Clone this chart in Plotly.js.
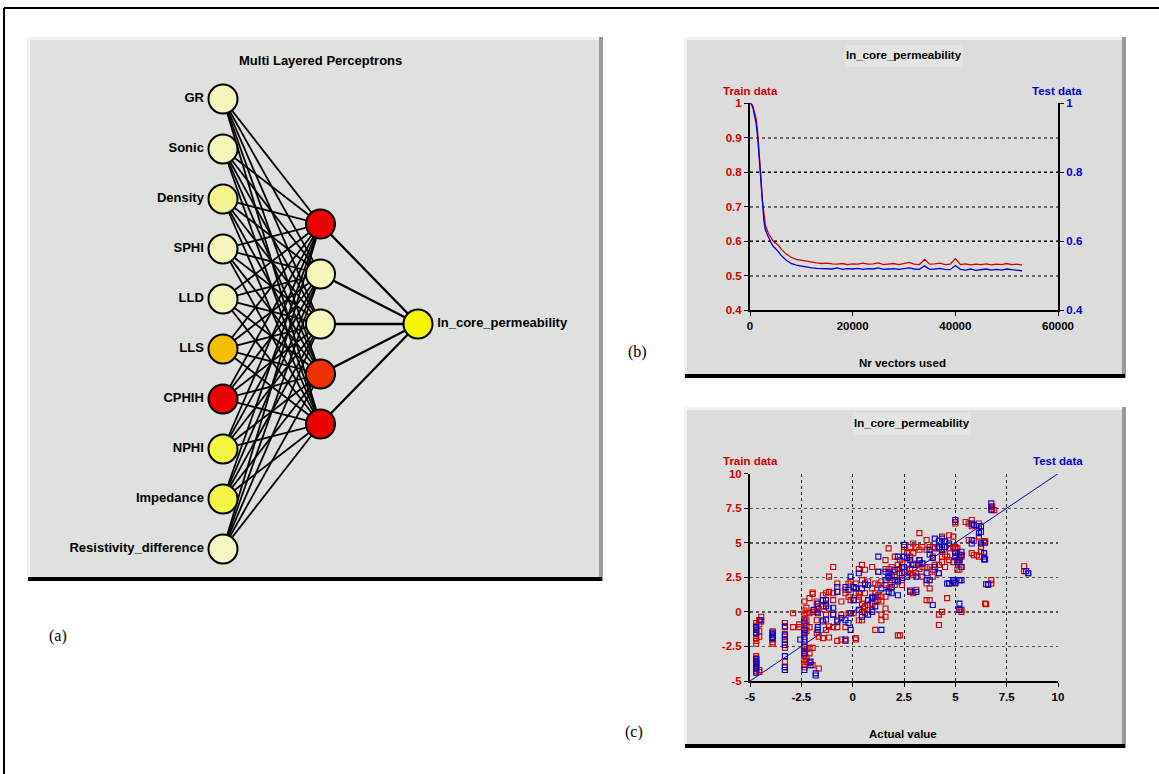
<!DOCTYPE html>
<html><head><meta charset="utf-8">
<script src="https://cdn.plot.ly/plotly-3.0.1.min.js"></script>
<style>html,body{margin:0;padding:0;background:#fff;}#plot{width:1159px;height:774px;}</style>
</head><body><div id="plot"></div>
<script>
// ---------------- DATA ----------------
// (a) network structure
const inputNames = ['GR','Sonic','Density','SPHI','LLD','LLS','CPHIH','NPHI','Impedance','Resistivity_difference'];
const hiddenCount = 5;
const outputName = 'ln_core_permeability';

// (b) learning curve
const vectorsUsed = [0,300,600,900,1200,1500,1800,2100,2400,2700,3000,3500,4000,4500,5000,5500,6000,6500,7000,7500,8000,
 9000,10000,11000,12000,13000,14000,15000,16000,17000,18000,19000,20000,21000,22000,23000,24000,25000,26000,27000,28000,29000,
 30000,31000,32000,33000,34000,35000,36000,37000,38000,39000,40000,41000,42000,43000,44000,45000,46000,47000,48000,49000,50000,
 51000,52000,53000];
const trainError = [1.0,0.998,0.99,0.975,0.955,0.915,0.86,0.79,0.72,0.675,0.645,0.625,0.612,0.600,0.594,0.588,0.578,0.570,0.563,0.558,0.553,
 0.547,0.544,0.541,0.539,0.537,0.535,0.536,0.534,0.533,0.535,0.532,0.534,0.533,0.536,0.533,0.534,0.537,0.532,0.533,0.535,0.532,
 0.534,0.538,0.533,0.532,0.547,0.533,0.534,0.536,0.532,0.533,0.549,0.532,0.534,0.531,0.533,0.532,0.534,0.531,0.533,0.532,0.535,
 0.532,0.533,0.530];
const testError = [1.0,0.997,0.985,0.965,0.94,0.90,0.84,0.77,0.70,0.66,0.632,0.612,0.598,0.585,0.578,0.570,0.560,0.552,0.545,0.540,0.535,
 0.530,0.527,0.525,0.522,0.521,0.520,0.521,0.519,0.522,0.518,0.520,0.519,0.521,0.518,0.520,0.519,0.522,0.518,0.519,0.520,0.518,
 0.521,0.522,0.519,0.518,0.528,0.518,0.519,0.521,0.518,0.517,0.529,0.518,0.516,0.519,0.515,0.517,0.519,0.516,0.518,0.516,0.519,
 0.517,0.516,0.514];
const errTicksLeft = [0.4,0.5,0.6,0.7,0.8,0.9,1];
const errTicksRight = [0.4,0.6,0.8,1];
const vecTicks = [0,20000,40000,60000];

// (c) predicted vs actual (actual value columns, predicted values per column)
const trainActual = [-4.7,-4.55,-4.45,-3.9,-3.3,-2.9,-2.6,-2.35,-2.25,-2.1,-1.95,-1.75,-1.65,-1.45,-1.3,-1.15,-0.95,-0.75,-0.55,-0.35,-0.2,-0.1,
 0.05,0.15,0.3,0.45,0.6,0.75,0.95,1.1,1.25,1.4,1.6,1.75,1.9,2.05,2.2,2.3,2.4,2.5,2.65,2.8,2.95,3.1,3.25,3.4,3.6,3.75,3.9,4.0,4.2,4.35,
 4.5,4.6,4.7,4.9,5.0,5.1,5.2,5.3,5.5,5.65,5.8,5.9,6.05,6.15,6.25,6.4,6.45,6.5,6.6,6.75,6.8,6.9,8.35,8.55];
const trainPredicted = [
 [-0.8,-1.0,-1.3,-1.6,-1.9,-2.1,-2.3,-3.2,-3.35,-3.5,-3.6,-3.7,-3.8,-3.95,-4.05,-4.15,-4.3],
 [-0.6,-0.9,-1.4,-1.8,-4.2,-4.35],[-0.35,-0.7],[-1.4,-1.6,-1.8,-2.0,-2.2,-2.3],
 [-0.8,-1.1,-1.6,-1.8,-2.0,-2.2,-2.4,-2.6,-3.6,-4.0,-4.2],[-0.1,-1.1],[-1.1,-0.9],
 [0.75,0.1,-0.2,-0.5,-0.8,-1.2,-1.5,-1.8,-2.2,-2.5,-2.8,-3.0,-3.2,-3.5,-3.8,-4.0],
 [0.3,-0.1,-0.6,-1.0,-1.4,-2.7,-3.3,-3.6],[1.0,-0.1,-1.1,-2.6,-3.0,-3.7],[1.4,1.3,0.0,-2.6,-3.85],
 [0.75,0.4,0.0,-0.6,-1.55],[0.2,-1.8,-4.1],[1.2,0.4,-0.6,-1.9],[1.35,0.6,-0.2,-1.3],[2.55,1.45,0.25,-1.05,-1.85],
 [3.25,1.35,0.85,-0.2,-1.1],[2.05,1.45,-0.6,-1.1,-2.1],[0.75,-0.2,-2.0],[1.6,1.35,-1.1,-2.1],[2.05,1.1,-0.1],
 [2.2,0.85,-0.1],[1.8,0.85,-0.1],[2.05,1.35,-1.9,-2.0],[3.1,1.35,1.1,0.85,-0.6],[3.4,2.3,0.6,0.0,-0.6],
 [3.05,1.95,1.35,0.4,-0.1],[2.2,0.85,0.5,0.15],[3.25,1.7,1.1,0.6,0.15],[2.05,1.35,0.75,-1.3],[2.9,1.95,1.2,0.85],
 [2.2,1.1,0.75,-0.2,-0.6],[3.75,3.1,1.95,1.1,0.25,-0.35],[4.6,3.1,2.45,1.7],[3.25,2.3,1.8],[4.0,2.9,2.55,1.95],
 [3.4,3.1,2.3,-1.7],[3.75,2.8,-1.7],[3.5,2.3,1.95],[4.7,4.35,2.9],[4.25,3.5,3.05],[4.7,4.0,3.1,2.8,1.45],
 [4.95,4.25,3.5,2.65,1.35],[4.7,3.4,2.8,1.6],[5.7,4.5,3.75,3.1],[4.7,3.5,3.25,2.55],[5.2,4.5,3.25,2.05,0.85],
 [4.7,3.25,1.7,0.85],[4.7,4.0,3.05,2.55],[4.6,3.4,3.05],[4.6,3.4,2.8,-0.2,-0.95],[5.45,4.35,4.0,3.6,0.0],
 [5.1,4.7,4.15,3.25],[4.0,1.0],[5.55,4.6,3.75,2.05],[5.45,4.7,3.6],[6.5,6.4,4.7,4.6,4.35,4.0,2.05],[4.6,3.75,3.05],
 [4.15,3.9,3.5,3.05,2.3,0.15],[4.0,3.25,0.15,0.0],[6.5],[6.4,5.2],[6.65,6.2,4.25],[6.3,5.15,4.1],[6.2,4.1],
 [6.4,5.45,4.0],[4.95,4.7,4.35],[5.1,4.25,4.0],[5.1,0.6],[0.55],[1.95],[7.6,2.3,2.05],[7.65,7.35],[7.35],[3.3,2.95],[2.8]
];
const testActual = [-4.7,-4.5,-3.9,-3.3,-2.55,-2.35,-2.05,-1.9,-1.8,-1.7,-1.45,-1.3,-0.95,-0.75,-0.55,-0.35,-0.2,-0.1,
 0.05,0.15,0.3,0.45,0.6,0.75,0.95,1.1,1.25,1.4,1.6,1.75,1.9,2.05,2.2,2.4,2.5,2.65,2.8,2.95,3.1,3.25,3.4,3.6,3.75,3.9,
 4.0,4.2,4.35,4.5,4.6,4.7,4.9,5.0,5.1,5.2,5.3,5.8,5.9,6.15,6.25,6.4,6.45,6.5,6.6,6.75,8.45,8.55];
const testPredicted = [
 [-1.1,-1.3,-1.5,-3.4,-3.6,-3.75,-3.9,-4.1,-4.4],[-0.6],[-1.5,-1.65,-1.8,-1.9],[-1.05,-1.7,-2.0,-2.4,-3.2,-4.0,-4.2],
 [-2.0],[-0.7,-1.3,-1.55,-2.0,-2.5,-3.0,-4.2],[-3.6,-3.85],[0.15],[-4.45,-4.6],[0.6,-0.1,-1.1,-1.3],[0.85,-0.7],
 [0.85,0.4,-0.55],[0.3,-0.2],[1.8,1.45,-0.7],[-0.45],[1.8,-0.6,-2.0],[1.6,-0.8],[2.55,-0.1,-1.3],
 [1.8,0.85],[1.7],[2.8,0.15],[1.7,-0.35],[2.05],[1.95,0.85,-0.2],[1.0,0.0],[1.1,0.4],[4.0,2.9],[1.7,-1.3],[2.9,2.3],
 [2.8,2.55,1.45],[2.65,1.8,1.35],[3.05,2.3],[4.0,2.2,1.2],[3.25,2.8,2.45],[4.85,4.0,3.25],[3.9,2.55],[3.75,1.55],[3.4],
 [2.55,1.45],[3.75,3.5],[3.5],[2.8,2.3],[4.5,4.15,2.3],[3.9,0.5],[5.3,3.25],[5.15,4.7,2.8],[5.3,4.7,4.5],[5.1,4.7],
 [2.05],[4.95,2.05],[2.3,2.2],[6.65,4.25,4.0,2.1],[3.6],[3.75,2.3,0.6,0.15],[4.35,4.1,3.25,2.3],[6.4,5.2,4.95],[6.3],
 [6.2,5.7],[6.2,5.8,4.95],[4.25,3.8],[5.0,3.8],[2.0],[2.0],[7.85,7.4],[2.95],[2.8]
];
const perfectFit = [-5,10];
const valueTicks = [-5,-2.5,0,2.5,5,7.5,10];

// ---------------- STYLE ----------------
const W = 1159, H = 774;
const fx = p => p / W, fy = p => 1 - p / H;
const RED = '#d00000', BLUE = '#0000d0';
const NARROW = '"Liberation Sans Narrow", "Liberation Sans", Arial, sans-serif';
const SANS = '"Liberation Sans", Arial, sans-serif';
const SERIF = '"Liberation Serif", "Times New Roman", serif';
const inputColors = ['#f6f6bb','#f6f6bb','#f4f490','#f6f6bb','#f6f6bb','#f5bf00','#ee0000','#f5f540','#f5f548','#f6f6c4'];
const hiddenColors = ['#ee0000','#f6f6bb','#f6f6bb','#f03000','#ee0000'];
const outputColor = '#f5f500';

// ---------------- TRACES ----------------
const traces = [];
// network: layer index on x, centred slot index on y
const inY = inputNames.map((_, i) => (inputNames.length - 1) / 2 - i);
const hidY = Array.from({length: hiddenCount}, (_, j) => (hiddenCount - 1) / 2 - j);
const ex = [], ey = [];
inY.forEach(a => hidY.forEach(b => { ex.push(0, 1, null); ey.push(a, b, null); }));
traces.push({x: ex, y: ey, xaxis: 'x3', yaxis: 'y3', mode: 'lines', line: {color: '#000', width: 1.8}, hoverinfo: 'skip'});
const ox = [], oy = [];
hidY.forEach(b => { ox.push(1, 2, null); oy.push(b, 0, null); });
traces.push({x: ox, y: oy, xaxis: 'x3', yaxis: 'y3', mode: 'lines', line: {color: '#000', width: 2.3}, hoverinfo: 'skip'});
traces.push({x: inY.map(() => 0), y: inY, xaxis: 'x3', yaxis: 'y3', mode: 'markers+text', text: inputNames,
  textposition: 'middle left', textfont: {family: SANS, size: 13, weight: 'bold', color: '#000'},
  marker: {size: 29, color: inputColors, line: {color: '#000', width: 2}}});
traces.push({x: hidY.map(() => 1), y: hidY, xaxis: 'x3', yaxis: 'y3', mode: 'markers',
  marker: {size: 29, color: hiddenColors, line: {color: '#000', width: 2}}});
traces.push({x: [2], y: [0], xaxis: 'x3', yaxis: 'y3', mode: 'markers+text', text: [outputName],
  textposition: 'middle right', textfont: {family: SANS, size: 13, weight: 'bold', color: '#000'},
  marker: {size: 29, color: outputColor, line: {color: '#000', width: 2}}});

// learning curves
traces.push({x: vectorsUsed, y: testError, xaxis: 'x', yaxis: 'y2', mode: 'lines', line: {color: BLUE, width: 1.3}});
traces.push({x: vectorsUsed, y: trainError, xaxis: 'x', yaxis: 'y', mode: 'lines', line: {color: RED, width: 1.3}});

// scatter
const flat = (xs, ys) => { const X = [], Y = []; xs.forEach((v, i) => ys[i].forEach(w => { X.push(v); Y.push(w); })); return [X, Y]; };
const [trX, trY] = flat(trainActual, trainPredicted);
const [teX, teY] = flat(testActual, testPredicted);
traces.push({x: perfectFit, y: perfectFit, xaxis: 'x4', yaxis: 'y4', mode: 'lines', line: {color: BLUE, width: 1}});
traces.push({x: trX, y: trY, xaxis: 'x4', yaxis: 'y4', mode: 'markers',
  marker: {symbol: 'square-open', size: 5, color: RED, line: {width: 1.1, color: RED}}});
traces.push({x: teX, y: teY, xaxis: 'x4', yaxis: 'y4', mode: 'markers',
  marker: {symbol: 'square-open', size: 5, color: BLUE, line: {width: 1.1, color: BLUE}}});

// ---------------- LAYOUT ----------------
function rect(x0, y0, x1, y1, fill) {
  return {type: 'rect', xref: 'paper', yref: 'paper', x0: fx(x0), x1: fx(x1), y0: fy(y1), y1: fy(y0),
    fillcolor: fill, line: {width: 0}, layer: 'below'};
}
function panel(x0, y0, x1, y1, fill) {
  return [rect(x0, y0, x1, y1, '#f2f3f1'), rect(x1 - 4, y0, x1, y1, '#9a9a9a'), rect(x0 + 1, y1 - 4, x1 - 1, y1, '#000'),
          rect(x0 + 3, y0 + 3, x1 - 4, y1 - 4, fill)];
}
const shapes = [
  ...panel(27, 37, 603, 581, '#dfe1de'),
  ...panel(684, 37, 1126, 378, '#dcdcdc'),
  rect(845, 45, 963, 67, '#e3e5e2'),
  ...panel(684, 407, 1126, 748, '#dcdcdc'),
  rect(853, 413, 971, 435, '#e3e5e2'),
  {type: 'line', xref: 'paper', yref: 'paper', x0: fx(4), x1: 1, y0: fy(8), y1: fy(8), line: {color: '#000', width: 2}},
  {type: 'line', xref: 'paper', yref: 'paper', x0: fx(4), x1: fx(4), y0: fy(8), y1: 0, line: {color: '#000', width: 2}}
];
function ann(text, x, y, size, color, family, weight) {
  return {text, x: fx(x), y: fy(y), xref: 'paper', yref: 'paper', showarrow: false, xanchor: 'center', yanchor: 'middle',
    font: {family: family || NARROW, size: size, color: color || '#000', weight: weight || 'bold'}};
}
const annotations = [
  ann('Multi Layered Perceptrons', 320, 60, 13, '#000', SANS),
  ann('ln_core_permeability', 904, 55, 11.5),
  ann('Train data', 750, 91, 11.5, RED),
  ann('Test data', 1057, 91, 11.5, BLUE),
  ann('Nr vectors used', 902, 363, 11.5),
  ann('ln_core_permeability', 912, 423, 11.5),
  ann('Train data', 750, 461, 11.5, RED),
  ann('Test data', 1058, 461, 11.5, BLUE),
  ann('Actual value', 903, 734, 11.5),
  ann('(a)', 58, 636, 16, '#000', SERIF, 'normal'),
  ann('(b)', 637, 352, 16, '#000', SERIF, 'normal'),
  ann('(c)', 634, 732, 16, '#000', SERIF, 'normal')
];
const tf = c => ({family: NARROW, size: 11.5, color: c, weight: 'bold'});
const baseAxis = {showline: true, linecolor: '#000', linewidth: 2, zeroline: false, ticks: 'outside', ticklen: 4,
  tickcolor: '#000', tickwidth: 1, fixedrange: true};
const layout = {
  width: W, height: H, margin: {l: 0, r: 0, t: 0, b: 0}, paper_bgcolor: '#fff', plot_bgcolor: 'rgba(0,0,0,0)',
  showlegend: false, hovermode: false, shapes, annotations,
  xaxis: Object.assign({}, baseAxis, {domain: [fx(750), fx(1058)], anchor: 'y', range: [0, 60000], tickvals: vecTicks,
    ticktext: vecTicks.map(String), showgrid: false, tickfont: tf('#000')}),
  yaxis: Object.assign({}, baseAxis, {domain: [fy(310), fy(103.3)], anchor: 'x', range: [0.4, 1], tickvals: errTicksLeft,
    ticktext: errTicksLeft.map(String), showgrid: true, gridcolor: '#6a6a6a', griddash: 'dot', gridwidth: 2, tickfont: tf(RED)}),
  yaxis2: Object.assign({}, baseAxis, {overlaying: 'y', side: 'right', anchor: 'x', range: [0.4, 1], tickvals: errTicksRight,
    ticktext: errTicksRight.map(String), showgrid: true, gridcolor: '#000', griddash: 'dot', gridwidth: 1, tickfont: tf(BLUE)}),
  xaxis3: {domain: [fx(27), fx(603)], anchor: 'y3', range: [(27 - 223) / 97.5, (603 - 223) / 97.5], visible: false, fixedrange: true},
  yaxis3: {domain: [fy(581), fy(37)], anchor: 'x3', range: [(324 - 581) / 50, (324 - 37) / 50], visible: false, fixedrange: true},
  xaxis4: Object.assign({}, baseAxis, {domain: [fx(750), fx(1058)], anchor: 'y4', range: [-5, 10], tickvals: valueTicks,
    ticktext: valueTicks.map(String), showgrid: true, gridcolor: '#222', griddash: 'dot', gridwidth: 1, tickfont: tf('#000')}),
  yaxis4: Object.assign({}, baseAxis, {domain: [fy(681), fy(473.7)], anchor: 'x4', range: [-5, 10], tickvals: valueTicks,
    ticktext: valueTicks.map(String), showgrid: true, gridcolor: '#555', griddash: 'dot', gridwidth: 1.5, tickfont: tf(RED)}),
  yaxis5: Object.assign({}, baseAxis, {overlaying: 'y4', side: 'right', anchor: 'x4', range: [-5, 10], tickvals: valueTicks,
    ticktext: valueTicks.map(String), showgrid: false, tickfont: tf(BLUE)})
};
Plotly.newPlot('plot', traces, layout, {staticPlot: true, displayModeBar: false});
</script>
</body></html>
